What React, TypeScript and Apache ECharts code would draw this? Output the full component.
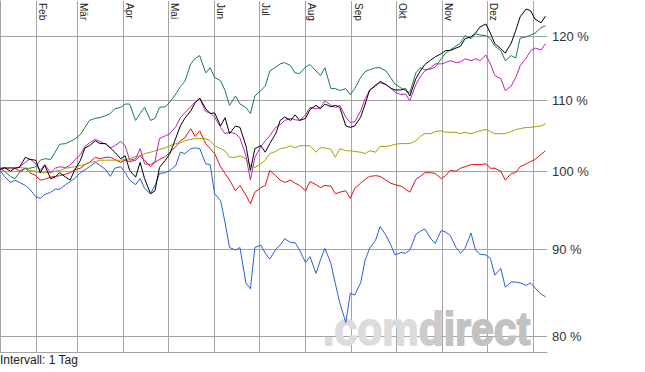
import { useEffect, useRef } from 'react';
import * as echarts from 'echarts';

const monthNames = ['Feb', 'Mär', 'Apr', 'Mai', 'Jun', 'Jul', 'Aug', 'Sep', 'Okt', 'Nov', 'Dez'];
const monthStarts = [24, 52, 83, 113, 144, 174, 205, 236, 266, 297, 327, 358];
const yTicks = [80, 90, 100, 110, 120];
const yRange = [78.33, 125.85];
const dayRange = [0, 367];

const days = [
  0, 3, 7, 10, 13, 17, 20, 24, 27, 30,
  34, 37, 40, 44, 47, 50, 54, 57, 60, 64,
  67, 71, 74, 77, 81, 84, 87, 91, 94, 97,
  101, 104, 107, 111, 114, 118, 121, 124, 128, 131,
  134, 138, 141, 144, 148, 151, 154, 158, 161, 165,
  168, 171, 175, 178, 181, 185, 188, 191, 195, 198,
  201, 205, 208, 212, 215, 218, 222, 225, 228, 232,
  235, 238, 242, 245, 248, 252, 255, 259, 262, 265,
  269, 272, 275, 279, 282, 285, 289, 292, 296, 299,
  302, 306, 309, 312, 316, 319, 322, 326, 329, 332,
  336, 339, 343, 346, 349, 353, 356, 359, 363, 366,
];

const blue = [
  100.1, 99.3, 98.5, 98.8, 98.5, 98.1, 97.6, 96.6, 96.4, 96.9,
  97.2, 97.6, 97.6, 98.2, 98.6, 99.0, 99.8, 100.2, 100.6, 101.2,
  100.8, 100.2, 99.3, 100.4, 100.6, 99.8, 98.8, 98.2, 99.0, 97.7,
  97.0, 98.1, 99.7, 99.8, 100.1, 100.8, 102.6, 102.4, 103.1, 103.2,
  103.1, 101.0, 100.9, 97.0, 96.1, 93.3, 90.2, 89.9, 90.2, 86.0,
  85.3, 90.2, 90.5, 89.5, 88.8, 90.0, 90.5, 91.3, 90.8, 90.8,
  89.9, 88.4, 89.1, 87.1, 88.7, 90.1, 88.3, 85.9, 83.7, 81.5,
  84.8, 84.6, 86.0, 88.7, 90.1, 91.1, 92.8, 91.7, 90.6, 89.3,
  89.6, 89.5, 89.9, 91.8, 92.2, 92.5, 91.3, 90.7, 92.3, 92.1,
  91.7, 90.2, 89.5, 90.1, 92.0, 89.9, 89.4, 89.3, 88.9, 86.9,
  87.7, 85.5, 86.1, 86.1, 86.0, 85.7, 86.0, 85.4, 84.7, 84.4,
];

const red = [
  100.4, 100.4, 100.4, 100.4, 100.0, 100.4, 99.8, 99.4, 98.8, 98.9,
  99.2, 99.3, 99.4, 99.6, 99.8, 100.2, 100.4, 100.9, 101.2, 101.9,
  101.7, 101.9, 101.9, 101.6, 101.2, 101.5, 101.3, 101.5, 102.1, 101.5,
  100.6, 101.2, 101.6, 102.0, 102.6, 103.4, 104.2, 104.6, 105.9, 104.8,
  105.6, 103.8, 103.1, 102.4, 100.6, 99.7, 98.8, 97.4, 98.1, 96.8,
  95.7, 97.2, 97.8, 98.1, 100.1, 99.4, 98.8, 98.5, 98.8, 98.4,
  98.1, 97.4, 98.6, 98.2, 97.8, 98.1, 98.0, 97.0, 97.2, 97.4,
  96.4, 97.7, 98.4, 98.9, 99.3, 99.4, 99.3, 98.8, 98.4, 98.2,
  98.0, 97.6, 97.2, 98.9, 99.3, 99.8, 99.8, 99.7, 99.0, 99.4,
  100.1, 100.0, 100.4, 100.6, 100.9, 100.9, 100.9, 101.0, 100.4, 100.4,
  100.0, 98.8, 99.7, 99.8, 100.6, 101.0, 101.3, 101.6, 102.3, 102.8,
];

const olive = [
  100.4, 100.5, 100.5, 100.5, 100.5, 100.4, 100.1, 100.0, 99.8, 99.8,
  99.8, 100.0, 100.1, 100.4, 100.5, 100.6, 100.8, 100.9, 101.2, 101.3,
  101.5, 101.5, 101.5, 101.5, 101.5, 101.6, 101.7, 102.0, 102.1, 102.4,
  102.6, 102.8, 103.0, 103.2, 103.5, 103.8, 103.9, 104.2, 104.4, 104.5,
  104.5, 104.5, 104.2, 103.5, 103.1, 102.8, 101.9, 101.9, 102.1, 101.7,
  100.8, 100.5, 101.0, 101.5, 102.4, 102.7, 103.1, 103.2, 103.5, 103.2,
  103.5, 103.5, 103.5, 102.6, 103.2, 103.2, 103.0, 101.9, 103.1, 102.8,
  102.8, 102.7, 102.6, 102.4, 102.8, 102.6, 103.4, 103.4, 103.5, 103.7,
  103.8, 103.8, 103.8, 104.2, 104.8, 105.2, 105.2, 105.5, 105.6, 105.4,
  105.4, 105.4, 105.2, 105.4, 105.2, 105.4, 105.6, 105.8, 105.5, 105.2,
  105.2, 105.2, 105.5, 105.8, 105.9, 106.1, 106.1, 106.2, 106.3, 106.6,
];

const green = [
  100.4, 100.0, 99.3, 99.0, 99.8, 100.4, 100.4, 100.6, 101.5, 101.7,
  101.6, 102.6, 103.7, 103.8, 104.1, 104.4, 105.1, 106.1, 107.1, 107.4,
  107.5, 107.8, 108.1, 108.8, 109.0, 109.5, 109.5, 107.1, 108.1, 109.0,
  107.1, 107.4, 109.0, 109.1, 109.8, 111.0, 112.1, 112.9, 115.6, 116.5,
  116.9, 114.2, 115.0, 113.5, 113.0, 111.5, 109.3, 110.7, 109.5, 109.0,
  108.1, 110.7, 111.5, 112.2, 114.5, 115.1, 115.6, 115.8, 115.3, 114.2,
  114.1, 115.1, 115.5, 114.5, 113.8, 115.0, 111.8, 111.8, 111.5, 111.8,
  110.9, 111.8, 113.5, 114.4, 114.7, 115.0, 115.0, 114.5, 113.5, 112.5,
  111.9, 111.5, 111.2, 114.2, 115.0, 114.7, 114.8, 115.1, 116.4, 117.3,
  117.8, 118.4, 118.9, 120.1, 119.6, 120.4, 120.2, 120.1, 119.6, 118.4,
  117.7, 116.1, 116.9, 116.5, 119.7, 119.9, 120.2, 120.5, 121.4, 121.7,
];

const magenta = [
  100.4, 100.4, 100.5, 100.4, 100.6, 101.2, 101.7, 101.0, 100.1, 100.9,
  99.8, 100.4, 100.6, 100.5, 100.8, 101.5, 102.3, 103.4, 103.9, 104.4,
  104.1, 103.7, 103.2, 103.5, 104.1, 103.5, 101.5, 101.7, 103.1, 101.0,
  100.9, 101.3, 104.5, 104.9, 105.2, 106.2, 107.5, 108.2, 109.1, 109.8,
  110.3, 108.4, 108.2, 107.6, 106.1, 105.2, 105.4, 105.2, 104.6, 102.1,
  98.8, 101.9, 103.4, 104.2, 104.9, 106.1, 106.5, 107.1, 107.4, 107.2,
  107.1, 107.9, 109.0, 108.8, 109.0, 110.0, 109.3, 109.0, 109.3, 107.6,
  106.8, 106.9, 108.5, 110.3, 111.5, 112.4, 112.7, 112.4, 111.9, 111.3,
  110.9, 111.0, 110.0, 112.4, 113.6, 114.5, 115.0, 115.6, 115.6, 115.8,
  116.1, 115.8, 115.9, 116.4, 116.1, 116.4, 116.1, 117.0, 115.6, 113.8,
  113.3, 111.5, 112.2, 113.5, 115.3, 116.5, 117.7, 118.1, 117.8, 118.8,
];

const black = [
  100.2, 100.5, 100.0, 100.4, 100.5, 101.9, 101.6, 101.5, 99.8, 100.8,
  99.0, 99.2, 99.8, 99.2, 98.8, 100.1, 101.5, 103.2, 103.5, 104.2,
  103.8, 103.8, 103.2, 102.6, 101.7, 102.1, 100.1, 99.2, 101.2, 99.0,
  97.0, 97.4, 100.5, 101.5, 102.4, 104.6, 106.3, 107.4, 108.5, 109.7,
  110.4, 108.8, 108.1, 108.2, 106.3, 107.5, 105.2, 106.3, 106.1, 103.5,
  100.1, 103.1, 103.5, 102.6, 103.8, 105.2, 107.1, 107.6, 107.1, 107.9,
  107.1, 107.4, 108.7, 109.3, 108.8, 109.5, 109.1, 109.3, 109.0, 106.3,
  106.1, 106.3, 107.6, 109.5, 111.6, 112.2, 112.9, 112.4, 111.9, 111.6,
  111.6, 111.8, 110.7, 113.3, 114.5, 115.5, 116.2, 116.7, 117.2, 117.7,
  117.7, 118.1, 118.4, 119.6, 119.9, 120.5, 121.5, 122.0, 120.5, 118.8,
  118.0, 117.3, 118.9, 120.9, 123.2, 124.5, 124.2, 122.8, 122.2, 123.3,
];

const FONT = '"Liberation Sans", Arial, Helvetica, sans-serif';
const GRID = '#a4a4a4';

export default function App() {
  const ref = useRef<HTMLDivElement>(null);

  useEffect(() => {
    if (!ref.current) return;
    const chart = echarts.init(ref.current, null, { renderer: 'svg' });
    const L = (v: number) => Math.log10(v);
    const labelPos = monthNames.map((_, i) => monthStarts[i] + 4.2);

    const mk = (name: string, vals: number[], color: string, z: number) => ({
      name,
      type: 'line',
      data: days.map((d, i) => [d, L(vals[i])]),
      showSymbol: false,
      symbol: 'none',
      silent: true,
      z,
      lineStyle: { width: 1, color },
      itemStyle: { color },
      emphasis: { disabled: true },
    });

    const wm = (fill: string) => ({
      fill,
      stroke: fill,
      lineWidth: 1.6,
      fontSize: 41,
      fontWeight: 'bold',
      fontFamily: FONT,
    });

    chart.setOption({
      animation: false,
      backgroundColor: '#ffffff',
      title: {
        text: 'Intervall: 1 Tag',
        left: 0,
        top: 354,
        padding: 0,
        textStyle: { fontSize: 12, fontWeight: 'normal', color: '#222', fontFamily: FONT },
      },
      grid: { left: 0, top: 0, width: 547, height: 352, containLabel: false },
      xAxis: [
        {
          type: 'value',
          position: 'top',
          min: dayRange[0],
          max: dayRange[1],
          axisLine: { show: false },
          axisTick: { show: false, customValues: monthStarts },
          splitLine: { show: true, lineStyle: { color: GRID, width: 1 } },
          axisLabel: {
            inside: true,
            rotate: 90,
            margin: 2,
            customValues: labelPos,
            fontSize: 10,
            color: '#222',
            fontFamily: FONT,
            formatter: (v: number) => {
              const i = labelPos.findIndex((p) => Math.abs(p - v) < 0.5);
              return i >= 0 ? monthNames[i] : '';
            },
          },
        },
        {
          type: 'value',
          position: 'bottom',
          min: dayRange[0],
          max: dayRange[1],
          axisLine: { show: true, lineStyle: { color: GRID, width: 1 } },
          axisTick: { show: false },
          axisLabel: { show: false },
          splitLine: { show: false },
        },
      ],
      yAxis: {
        type: 'value',
        position: 'right',
        min: L(yRange[0]),
        max: L(yRange[1]),
        axisLine: { show: true, lineStyle: { color: GRID, width: 1 } },
        axisTick: { show: false, customValues: yTicks.map(L) },
        splitLine: { show: true, lineStyle: { color: GRID, width: 1 } },
        axisLabel: {
          customValues: yTicks.map(L),
          margin: 5,
          fontSize: 13,
          color: '#333',
          fontFamily: FONT,
          formatter: (v: number) => Math.round(Math.pow(10, v)) + ' %',
        },
      },
      graphic: [
        {
          type: 'text',
          x: 323,
          y: 306,
          scaleY: 1.12,
          z: 1,
          silent: true,
          style: {
            text: '{a|.com}{b|d}{c|irect}',
            font: 'bold 41px ' + FONT,
            textVerticalAlign: 'top',
            fill: '#d0d0d0',
            rich: {
              a: wm('#dcdcdc'),
              b: wm('#cbcbcb'),
              c: wm('#c2c2c2'),
            },
          },
        },
      ],
      series: [
        mk('blue', blue, '#2a5fd6', 2),
        mk('red', red, '#e01010', 3),
        mk('olive', olive, '#a6a000', 4),
        mk('green', green, '#1b7b4b', 5),
        mk('magenta', magenta, '#bb22bb', 6),
        mk('black', black, '#000000', 7),
      ],
    });

    return () => chart.dispose();
  }, []);

  return (
    <div
      ref={ref}
      style={{ position: 'fixed', left: 0, top: 0, width: 645, height: 372 }}
    />
  );
}
